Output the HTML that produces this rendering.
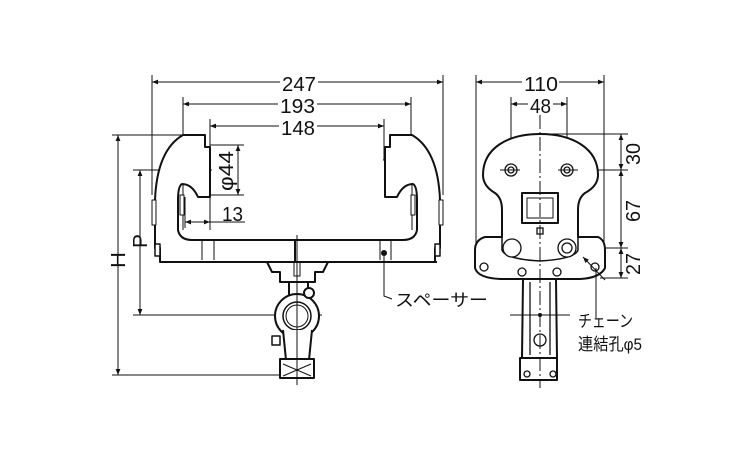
<!DOCTYPE html>
<html><head><meta charset="utf-8"><style>
html,body{margin:0;padding:0;background:#fff;}
svg{display:block;}
text{font-family:"Liberation Sans","Noto Sans CJK JP",sans-serif;fill:#111;}
</style></head><body>
<svg width="750" height="450" viewBox="0 0 750 450" xmlns="http://www.w3.org/2000/svg">
<defs>
<marker id="a" viewBox="0 0 10 10" refX="10" refY="5" markerWidth="9" markerHeight="6" orient="auto-start-reverse" markerUnits="userSpaceOnUse"><path d="M0,1 L10,5 L0,9 Z" fill="#111"/></marker>
</defs>
<g stroke="#111" stroke-width="1" fill="none">
<line x1="152" y1="75" x2="152" y2="195"/>
<line x1="443" y1="75" x2="443" y2="195"/>
<line x1="183" y1="97" x2="183" y2="180"/>
<line x1="411" y1="97" x2="411" y2="180"/>
<line x1="210" y1="119" x2="210" y2="230"/>
<line x1="384" y1="119" x2="384" y2="160"/>
<line x1="185" y1="197" x2="185" y2="228"/>
<line x1="152" y1="82" x2="280" y2="82" marker-start="url(#a)"/>
<line x1="318" y1="82" x2="443" y2="82" marker-end="url(#a)"/>
<line x1="183" y1="104" x2="278" y2="104" marker-start="url(#a)"/>
<line x1="317" y1="104" x2="411" y2="104" marker-end="url(#a)"/>
<line x1="210" y1="126" x2="279" y2="126" marker-start="url(#a)"/>
<line x1="317" y1="126" x2="384" y2="126" marker-end="url(#a)"/>
<line x1="238" y1="145" x2="238" y2="195" marker-start="url(#a)" marker-end="url(#a)"/>
<line x1="210" y1="145" x2="244" y2="145"/>
<line x1="210" y1="195" x2="244" y2="195"/>
<line x1="185" y1="222" x2="210" y2="222" marker-start="url(#a)" marker-end="url(#a)"/>
<line x1="210" y1="222" x2="245" y2="222"/>
<line x1="112" y1="135" x2="185" y2="135"/>
<line x1="112" y1="375" x2="285" y2="375"/>
<line x1="118" y1="135" x2="118" y2="375" marker-start="url(#a)" marker-end="url(#a)"/>
<line x1="133" y1="170" x2="212" y2="170"/>
<line x1="133" y1="315" x2="322" y2="315"/>
<line x1="140" y1="170" x2="140" y2="315" marker-start="url(#a)" marker-end="url(#a)"/>
<line x1="383" y1="160" x2="404" y2="160"/>
</g>
<g stroke="#111" stroke-width="2" fill="#fff" stroke-linejoin="round">
<g id="endL">
<path d="M160,262 L160,248 L155,248 L155,200 Q157,150 183,135 L205,135 L205,147 L210,147 L210,197 L198,197 Q192,184 182,184 Q178,186 178,200 L178,230 Q180,240 192,240 L300,240 L300,262 Z"/>
<path d="M183,185 L183,230" stroke-width="1"/>
<rect x="180" y="195" width="4" height="20" stroke-width="1"/>
<rect x="152" y="200" width="4" height="25" stroke-width="1"/>
<rect x="155" y="244" width="5" height="12" stroke-width="1.5"/>
</g>
<use href="#endL" transform="translate(595,0) scale(-1,1)"/>
<path d="M160,262 L267,262 L272,272 L280,272 L280,282 L315,282 L315,272 L323,272 L328,262 L437,262" fill="none"/>
<path d="M289,282 L289,300 M308,282 L308,300" fill="none"/>
<circle cx="297" cy="316" r="22"/>
<circle cx="297" cy="316" r="14" stroke-width="1.5"/>
<circle cx="297" cy="316" r="11" stroke-width="1"/>
<circle cx="309" cy="293" r="5"/>
<path d="M283,330 L286,360 L309,360 L312,330" />
<rect x="280" y="359" width="34" height="19"/>
<rect x="272" y="336" width="8" height="9" stroke-width="1.5"/>
</g>
<g stroke="#111" stroke-width="1" fill="none">
<line x1="202" y1="240" x2="202" y2="260"/><line x1="214" y1="240" x2="214" y2="260"/>
<line x1="380" y1="240" x2="380" y2="260"/><line x1="391" y1="240" x2="391" y2="260"/>
<rect x="294" y="262" width="6" height="14"/>
<line x1="297" y1="235" x2="297" y2="385"/>
<path d="M283,364 L311,376 M283,376 L311,364"/>
<path d="M384,255 L384,296 L392,299"/>
</g>
<circle cx="384" cy="253" r="3" fill="#111"/>
<g stroke="#111" stroke-width="1" fill="none">
<line x1="476" y1="75" x2="476" y2="245"/>
<line x1="604" y1="75" x2="604" y2="245"/>
<line x1="511" y1="97" x2="511" y2="170"/>
<line x1="567" y1="97" x2="567" y2="170"/>
<line x1="476" y1="82" x2="522" y2="82" marker-start="url(#a)"/>
<line x1="559" y1="82" x2="604" y2="82" marker-end="url(#a)"/>
<line x1="511" y1="104" x2="528" y2="104" marker-start="url(#a)"/>
<line x1="553" y1="104" x2="567" y2="104" marker-end="url(#a)"/>
<line x1="540" y1="134" x2="628" y2="134"/>
<line x1="580" y1="170" x2="628" y2="170"/>
<line x1="580" y1="248" x2="628" y2="248"/>
<line x1="600" y1="278" x2="628" y2="278"/>
<line x1="621" y1="134" x2="621" y2="170" marker-start="url(#a)" marker-end="url(#a)"/>
<line x1="621" y1="170" x2="621" y2="248" marker-start="url(#a)" marker-end="url(#a)"/>
<line x1="621" y1="248" x2="621" y2="278" marker-start="url(#a)" marker-end="url(#a)"/>
</g>
<g stroke="#111" stroke-width="2" fill="#fff" stroke-linejoin="round">
<path d="M483,175 C483,148 508,134 540,134 C572,134 598,148 598,175 Q598,186 585,193 Q578,198 578,210 L578,237 L598,237 Q605,240 605,250 L605,268 Q600,278 580,279 L500,279 Q478,278 475,268 L475,250 Q475,240 485,237 L502,237 L502,210 Q502,198 495,193 Q483,186 483,175 Z"/>
<path d="M502,237 L502,250 Q505,259 540,261 Q575,259 578,250 L578,237" fill="none" stroke-width="1.5"/>
<rect x="522" y="193" width="36" height="30" stroke-width="2"/>
<rect x="527" y="198" width="26" height="20" stroke-width="1"/>
<path d="M523,280 L522,358 L557,358 L556,280"/>
<rect x="520" y="358" width="37" height="22"/>
</g>
<g stroke="#111" stroke-width="1.3" fill="#fff">
<circle cx="511" cy="170" r="6"/><circle cx="511" cy="170" r="3"/>
<circle cx="567" cy="170" r="6"/><circle cx="567" cy="170" r="3"/>
<circle cx="512" cy="248" r="9"/><circle cx="567" cy="248" r="9"/><circle cx="567" cy="248" r="5"/>
<circle cx="484" cy="267" r="4"/><circle cx="522" cy="272" r="4"/><circle cx="557" cy="272" r="4"/><circle cx="595" cy="267" r="4"/>
<circle cx="540" cy="340" r="6"/>
<circle cx="527" cy="374" r="3"/><circle cx="553" cy="374" r="3"/>
<rect x="537" y="228" width="6" height="6"/>
<line x1="530" y1="282" x2="530" y2="355"/><line x1="550" y1="282" x2="550" y2="355"/>
</g>
<circle cx="540" cy="315" r="2" fill="#111"/>
<g stroke="#111" stroke-width="1" fill="none">
<line x1="540" y1="115" x2="540" y2="388" stroke-dasharray="14,3,2,3"/>
<line x1="500" y1="170" x2="520" y2="170"/><line x1="558" y1="170" x2="578" y2="170"/>
<line x1="510" y1="315" x2="570" y2="315"/>
<line x1="583" y1="257" x2="605" y2="280" marker-start="url(#a)"/>
<line x1="596" y1="268" x2="596" y2="318"/>
</g>
<g font-size="20">
<text x="282" y="91" textLength="34" lengthAdjust="spacingAndGlyphs">247</text>
<text x="280" y="113" textLength="35" lengthAdjust="spacingAndGlyphs">193</text>
<text x="281" y="135" textLength="34" lengthAdjust="spacingAndGlyphs">148</text>
<text x="222" y="221" textLength="21" lengthAdjust="spacingAndGlyphs">13</text>
<text x="524" y="91" textLength="34" lengthAdjust="spacingAndGlyphs">110</text>
<text x="530" y="113" textLength="21" lengthAdjust="spacingAndGlyphs">48</text>
<text transform="translate(233,191) rotate(-90)" textLength="40" lengthAdjust="spacingAndGlyphs">φ44</text>
<text transform="translate(125,268) rotate(-90)" textLength="16" lengthAdjust="spacingAndGlyphs">H</text>
<text transform="translate(147,248) rotate(-90)" textLength="14" lengthAdjust="spacingAndGlyphs">P</text>
<text transform="translate(640,165) rotate(-90)" textLength="22" lengthAdjust="spacingAndGlyphs">30</text>
<text transform="translate(640,222) rotate(-90)" textLength="22" lengthAdjust="spacingAndGlyphs">67</text>
<text transform="translate(640,275) rotate(-90)" textLength="22" lengthAdjust="spacingAndGlyphs">27</text>
</g>
<g font-size="17">
<text x="395" y="306" textLength="93" lengthAdjust="spacingAndGlyphs">スペーサー</text>
<text x="578" y="327" textLength="55" lengthAdjust="spacingAndGlyphs">チェーン</text>
<text x="578" y="350" textLength="64" lengthAdjust="spacingAndGlyphs">連結孔φ5</text>
</g>
</svg>
</body></html>
